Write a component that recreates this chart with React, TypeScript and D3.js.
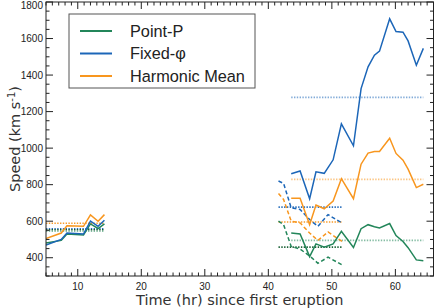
import React from "react";
import * as d3 from "d3";

// left cluster (hours 5-14)
const earlyTimes = [5, 7.4, 8.3, 10.9, 12, 13.2, 14.2];
const earlyPointP = [480, 495, 530, 525, 585, 560, 585];
const earlyFixedPhi = [470, 500, 535, 530, 600, 572, 605];
const earlyHarmonic = [505, 535, 575, 572, 635, 600, 636];

// dashed group (hours 41-52)
const dashTimes = [41.6, 42.4, 43.6, 45, 46.5, 47.8, 49.4, 51.6];
const dashPointP = [600, 581, 462, 447, 410, 370, 403, 361];
const dashFixedPhi = [820, 807, 673, 664, 609, 572, 636, 590];
const dashHarmonic = [752, 719, 600, 591, 535, 495, 541, 489];

// solid group (hours 43-65)
const lateTimes = [43.6, 45, 46.5, 47.5, 48.8, 50.2, 51.5, 53.4, 54.6, 55.7, 56.7, 57.5, 59.1, 60.1, 61.2, 62, 63.3, 64.4];
const latePointP = [535, 530, 406, 476, 458, 476, 545, 456, 559, 581, 570, 563, 587, 521, 489, 455, 388, 383];
const lateFixedPhi = [860, 875, 723, 870, 862, 936, 1133, 1013, 1326, 1445, 1509, 1531, 1708, 1638, 1635, 1587, 1454, 1546];
const lateHarmonic = [725, 725, 581, 688, 668, 710, 833, 723, 912, 973, 982, 982, 1054, 971, 934, 885, 784, 802];

// mean levels: [t0, t1, value, colour key, faded]
const meanLines: [number, number, number, string, boolean][] = [
  [5, 14.2, 589, "orange", false],
  [5, 14.2, 559, "blue", false],
  [5, 14.2, 553, "dark", false],
  [5, 14.2, 545, "green", true],
  [41.6, 51.6, 677, "blue", false],
  [41.6, 51.6, 596, "orange", false],
  [41.6, 51.6, 458, "dark", false],
  [43.6, 64.4, 1278, "blue", true],
  [43.6, 64.4, 829, "orange", true],
  [43.6, 64.4, 495, "green", true],
];

const legendNames = ["Point-P", "Fixed-\u03c6", "Harmonic Mean"];

const colors: Record<string, string> = {
  green: "#23865a",
  blue: "#1c66b8",
  orange: "#f8961e",
  dark: "#0f5a2c",
};
const seriesColors = [colors.green, colors.blue, colors.orange];

const W = 436;
const H = 308;
const left = 46;
const right = 433.5;
const top = 2;
const bottom = 276;

export default function App() {
  const x = d3.scaleLinear().domain([5, 66]).range([left, right]);
  const y = d3.scaleLinear().domain([300, 1800]).range([bottom, top]);

  const line = (ts: number[]) =>
    d3
      .line<number>()
      .x((_, i) => x(ts[i]))
      .y((d) => y(d));

  const groups = [
    { ts: earlyTimes, series: [earlyPointP, earlyFixedPhi, earlyHarmonic], dash: undefined },
    { ts: dashTimes, series: [dashPointP, dashFixedPhi, dashHarmonic], dash: "4,2.5" },
    { ts: lateTimes, series: [latePointP, lateFixedPhi, lateHarmonic], dash: undefined },
  ];

  const xMajor = x.ticks(6).filter((t) => t >= 10);
  const xMinor = d3.range(5, 67, 1);
  const yMajor = y.ticks(8);
  const yMinor = d3.range(300, 1801, 50);

  const tickFont = "Liberation Sans, Arial, sans-serif";
  const titleFont = "DejaVu Sans, sans-serif";

  return (
    <svg width={W} height={H} style={{ position: "absolute", left: 0, top: 0 }}>
      <rect width={W} height={H} fill="#fff" />
      <defs>
        <clipPath id="plot">
          <rect x={left} y={top} width={right - left} height={bottom - top} />
        </clipPath>
      </defs>

      <g clipPath="url(#plot)">
        {meanLines.map(([t0, t1, v, c, faded], i) => (
          <line
            key={"m" + i}
            x1={x(t0)}
            x2={x(t1)}
            y1={y(v)}
            y2={y(v)}
            stroke={colors[c]}
            strokeOpacity={faded ? 0.55 : 0.95}
            strokeWidth={1.6}
            strokeDasharray="1.4,1.4"
          />
        ))}
        {groups.map((g, gi) =>
          g.series.map((s, si) => (
            <path
              key={gi + "-" + si}
              d={line(g.ts)(s) ?? ""}
              fill="none"
              stroke={seriesColors[si]}
              strokeWidth={1.5}
              strokeDasharray={g.dash}
              strokeLinejoin="miter"
            />
          ))
        )}
      </g>

      {/* frame */}
      <rect x={left} y={top} width={right - left} height={bottom - top} fill="none" stroke="#222" strokeWidth={1} />

      {/* x ticks bottom and top, pointing in */}
      {xMinor.map((t) => (
        <g key={"xm" + t} stroke="#222" strokeWidth={1}>
          <line x1={x(t)} x2={x(t)} y1={bottom} y2={bottom - (t % 10 === 0 ? 7 : 3.5)} />
          <line x1={x(t)} x2={x(t)} y1={top} y2={top + (t % 10 === 0 ? 7 : 3.5)} />
        </g>
      ))}
      {xMajor.map((t) => (
        <text key={"xl" + t} x={x(t)} y={bottom + 14} textAnchor="middle" fontFamily={tickFont} fontSize={10} fill="#222">
          {t}
        </text>
      ))}

      {/* y ticks left and right */}
      {yMinor.map((v) => (
        <g key={"ym" + v} stroke="#222" strokeWidth={1}>
          <line x1={left} x2={left + (v % 200 === 0 ? 7 : 3.5)} y1={y(v)} y2={y(v)} />
          <line x1={right} x2={right - (v % 200 === 0 ? 7 : 3.5)} y1={y(v)} y2={y(v)} />
        </g>
      ))}
      {yMajor.map((v) => (
        <text
          key={"yl" + v}
          x={left - 3}
          y={Math.max(y(v) + 3.6, 9)}
          textAnchor="end"
          fontFamily={tickFont}
          fontSize={10}
          fill="#222"
        >
          {v}
        </text>
      ))}

      {/* titles */}
      <text x={(left + right) / 2} y={304.5} textAnchor="middle" fontFamily={titleFont} fontSize={14.5} fill="#333">
        Time (hr) since first eruption
      </text>
      <text
        transform={`translate(20,${(top + bottom) / 2}) rotate(-90)`}
        textAnchor="middle"
        fontFamily={titleFont}
        fontSize={14.5}
        fill="#333"
      >
        Speed (km s<tspan dy={-5} fontSize={10}>-1</tspan>
        <tspan dy={5}>)</tspan>
      </text>

      {/* legend */}
      <rect x={69} y={14} width={186} height={74} fill="#fff" stroke="#555" strokeWidth={1} />
      {legendNames.map((n, i) => (
        <g key={n}>
          <line x1={80} x2={112} y1={31 + i * 22.5} y2={31 + i * 22.5} stroke={seriesColors[i]} strokeWidth={2} />
          <text x={130} y={31 + i * 22.5 + 5.5} fontFamily={tickFont} fontSize={16.3} fill="#222">
            {n}
          </text>
        </g>
      ))}
    </svg>
  );
}
